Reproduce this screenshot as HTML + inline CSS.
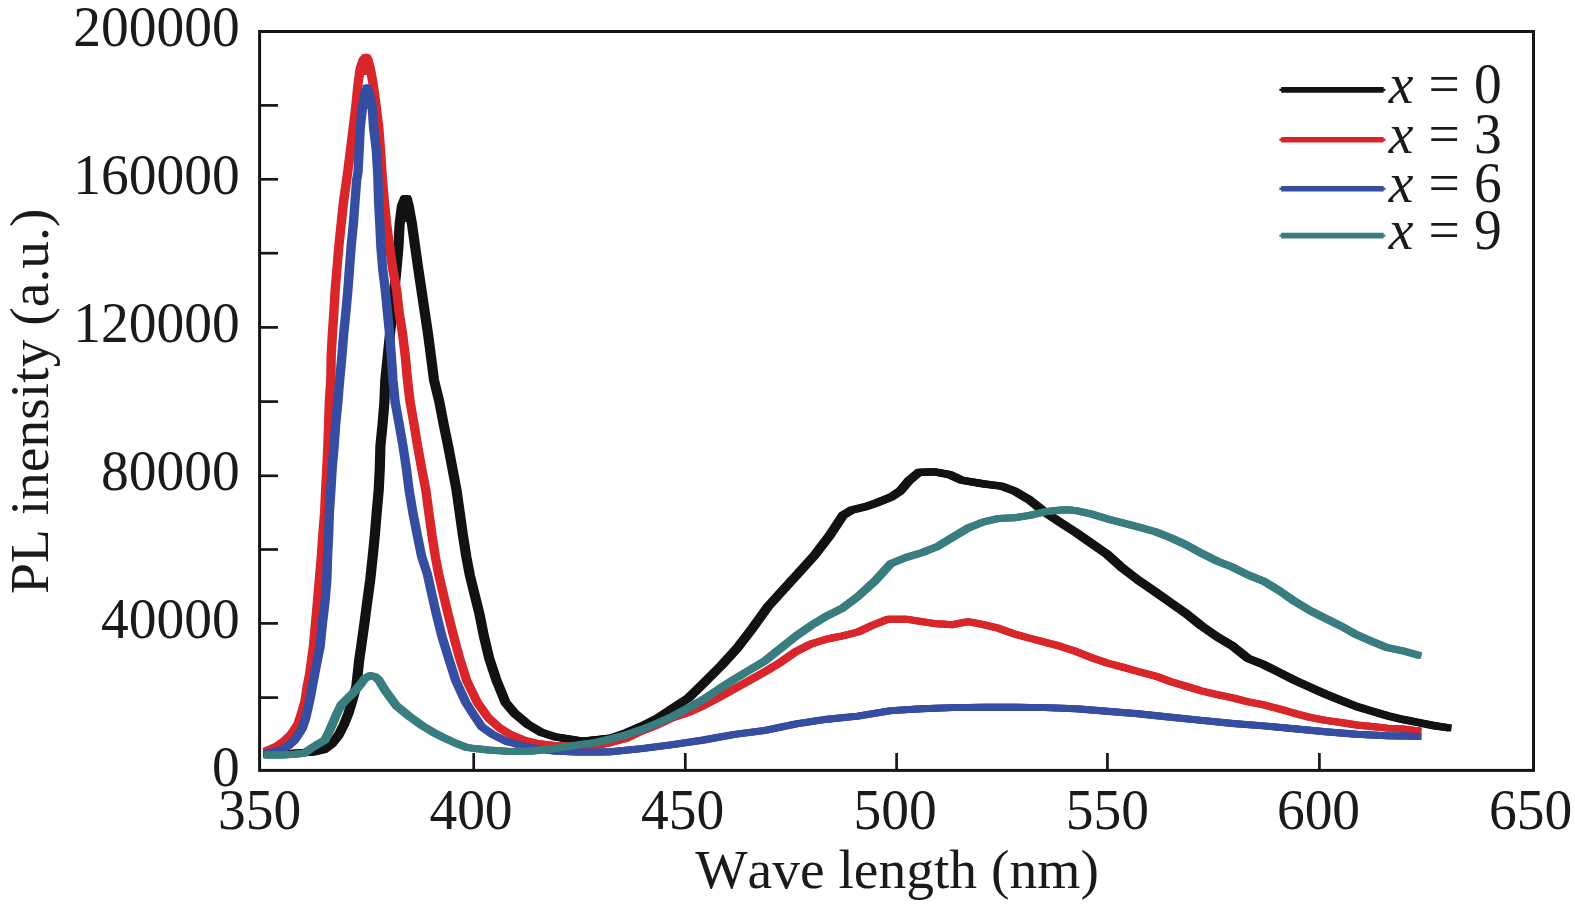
<!DOCTYPE html>
<html>
<head>
<meta charset="utf-8">
<title>PL intensity vs wave length</title>
<style>
html,body{margin:0;padding:0;background:#ffffff;}
body{width:1575px;height:906px;overflow:hidden;}
svg{display:block;}
.t{font-family:"Liberation Serif",serif;font-size:55.5px;fill:#1a1a1a;font-kerning:none;}
</style>
</head>
<body>
<svg width="1575" height="906" viewBox="0 0 1575 906">
<rect x="0" y="0" width="1575" height="906" fill="#ffffff"/>
<rect x="259.6" y="31.5" width="1273.9" height="738.9" fill="none" stroke="#161616" stroke-width="3"/>
<line x1="259.6" y1="105.4" x2="278" y2="105.4" stroke="#161616" stroke-width="2.7"/>
<line x1="259.6" y1="179.3" x2="278" y2="179.3" stroke="#161616" stroke-width="2.7"/>
<line x1="259.6" y1="253.2" x2="278" y2="253.2" stroke="#161616" stroke-width="2.7"/>
<line x1="259.6" y1="327.4" x2="278" y2="327.4" stroke="#161616" stroke-width="2.7"/>
<line x1="259.6" y1="401.6" x2="278" y2="401.6" stroke="#161616" stroke-width="2.7"/>
<line x1="259.6" y1="475.8" x2="278" y2="475.8" stroke="#161616" stroke-width="2.7"/>
<line x1="259.6" y1="549.5" x2="278" y2="549.5" stroke="#161616" stroke-width="2.7"/>
<line x1="259.6" y1="623.4" x2="278" y2="623.4" stroke="#161616" stroke-width="2.7"/>
<line x1="259.6" y1="697.6" x2="278" y2="697.6" stroke="#161616" stroke-width="2.7"/>
<line x1="473.7" y1="753" x2="473.7" y2="770.4" stroke="#161616" stroke-width="2.7"/>
<line x1="685.3" y1="753" x2="685.3" y2="770.4" stroke="#161616" stroke-width="2.7"/>
<line x1="896.6" y1="753" x2="896.6" y2="770.4" stroke="#161616" stroke-width="2.7"/>
<line x1="1107.4" y1="753" x2="1107.4" y2="770.4" stroke="#161616" stroke-width="2.7"/>
<line x1="1319.4" y1="753" x2="1319.4" y2="770.4" stroke="#161616" stroke-width="2.7"/>
<path d="M266.6 754.0 L288.5 753.5 L301.5 752.5 L312.0 752.0 L322.5 749.5 L330.5 743.5 L337.2 735.0 L342.5 724.5 L347.1 713.0 L351.0 700.0 L354.8 686.5 L356.3 673.0 L357.7 660.0 L359.7 646.2 L362.8 624.2 L365.7 602.1 L368.7 580.0 L371.2 556.6 L373.4 534.5 L375.2 512.5 L377.2 490.4 L378.3 468.3 L378.9 446.2 L381.1 424.2 L382.9 402.1 L383.8 380.0 L386.2 356.6 L388.4 334.5 L390.9 312.5 L392.8 290.4 L395.1 268.3 L397.0 246.2 L398.1 224.2 L400.4 206.0 L403.5 198.5 L405.3 198.5 L407.2 206.0 L410.5 224.2 L413.6 246.2 L416.7 268.3 L420.0 290.4 L423.3 312.5 L426.6 334.5 L429.5 356.6 L432.5 380.0 L437.9 402.1 L442.1 424.2 L446.7 446.2 L450.9 468.3 L455.1 490.4 L458.2 512.5 L461.3 534.5 L464.8 556.6 L468.3 575.0 L472.5 592.1 L478.0 614.2 L482.4 636.2 L487.7 658.3 L495.0 680.4 L504.0 702.5 L513.3 713.5 L526.5 724.5 L539.8 732.3 L553.0 736.7 L566.3 738.9 L581.7 741.2 L593.9 739.8 L609.4 738.2 L624.8 732.9 L640.3 726.1 L655.7 718.4 L671.2 708.2 L686.6 698.3 L702.2 683.1 L720.1 665.3 L735.6 648.3 L751.0 628.2 L766.5 606.6 L781.9 589.6 L797.4 572.6 L812.8 555.6 L828.2 535.5 L841.4 515.4 L850.4 509.9 L865.8 506.2 L873.9 503.3 L889.4 497.2 L898.7 491.0 L907.9 480.2 L917.2 472.4 L932.6 471.8 L948.1 474.6 L960.4 480.2 L982.1 483.9 L1000.6 486.3 L1013.0 491.0 L1028.4 500.2 L1043.9 512.6 L1059.3 522.8 L1074.8 532.7 L1090.2 543.5 L1105.6 554.3 L1121.1 568.2 L1136.5 580.0 L1154.0 592.0 L1169.4 602.9 L1184.9 613.7 L1200.3 626.1 L1215.8 636.9 L1231.3 646.2 L1246.7 658.5 L1262.2 664.7 L1277.6 672.4 L1293.1 680.2 L1308.6 687.3 L1324.0 694.1 L1339.5 700.3 L1355.0 706.5 L1370.4 711.1 L1385.9 715.7 L1401.3 719.4 L1416.8 722.5 L1432.3 725.6 L1445.0 727.5 M404.4 199.0 L404.4 218.5" fill="none" stroke="#121212" stroke-width="7.20" stroke-linejoin="round" stroke-linecap="square"/>
<path d="M268.1 754.0 L290.0 753.5 L303.0 752.5 L313.5 752.0 L324.0 749.5 L332.0 743.5 L338.7 735.0 L344.0 724.5 L348.6 713.0 L352.5 700.0 L356.3 686.5 L357.8 673.0 L359.2 660.0 L361.2 646.2 L364.3 624.2 L367.2 602.1 L370.2 580.0 L372.7 556.6 L374.9 534.5 L376.7 512.5 L378.7 490.4 L379.8 468.3 L380.4 446.2 L382.6 424.2 L384.4 402.1 L385.3 380.0 L387.7 356.6 L389.9 334.5 L392.4 312.5 L394.3 290.4 L396.6 268.3 L398.5 246.2 L399.6 224.2 L401.9 206.0 L405.0 198.5 L406.8 198.5 L408.7 206.0 L412.0 224.2 L415.1 246.2 L418.2 268.3 L421.5 290.4 L424.8 312.5 L428.1 334.5 L431.0 356.6 L434.0 380.0 L439.4 402.1 L443.6 424.2 L448.2 446.2 L452.4 468.3 L456.6 490.4 L459.7 512.5 L462.8 534.5 L466.3 556.6 L469.8 575.0 L474.0 592.1 L479.5 614.2 L483.9 636.2 L489.2 658.3 L496.5 680.4 L505.5 702.5 L514.8 713.5 L528.0 724.5 L541.3 732.3 L554.5 736.7 L567.8 738.9 L583.2 741.2 L595.4 739.8 L610.9 738.2 L626.3 732.9 L641.8 726.1 L657.2 718.4 L672.7 708.2 L688.1 698.3 L703.7 683.1 L721.6 665.3 L737.1 648.3 L752.5 628.2 L768.0 606.6 L783.4 589.6 L798.9 572.6 L814.3 555.6 L829.7 535.5 L842.9 515.4 L851.9 509.9 L867.3 506.2 L875.4 503.3 L890.9 497.2 L900.2 491.0 L909.4 480.2 L918.7 472.4 L934.1 471.8 L949.6 474.6 L961.9 480.2 L983.6 483.9 L1002.1 486.3 L1014.5 491.0 L1029.9 500.2 L1045.4 512.6 L1060.8 522.8 L1076.3 532.7 L1091.7 543.5 L1107.1 554.3 L1122.6 568.2 L1138.0 580.0 L1155.5 592.0 L1170.9 602.9 L1186.4 613.7 L1201.8 626.1 L1217.3 636.9 L1232.8 646.2 L1248.2 658.5 L1263.7 664.7 L1279.1 672.4 L1294.6 680.2 L1310.1 687.3 L1325.5 694.1 L1341.0 700.3 L1356.5 706.5 L1371.9 711.1 L1387.4 715.7 L1402.8 719.4 L1418.3 722.5 L1433.8 725.6 L1446.5 727.5 M405.9 199.0 L405.9 218.5" fill="none" stroke="#121212" stroke-width="7.20" stroke-linejoin="round" stroke-linecap="square"/>
<path d="M269.6 754.0 L291.5 753.5 L304.5 752.5 L315.0 752.0 L325.5 749.5 L333.5 743.5 L340.2 735.0 L345.5 724.5 L350.1 713.0 L354.0 700.0 L357.8 686.5 L359.3 673.0 L360.7 660.0 L362.7 646.2 L365.8 624.2 L368.7 602.1 L371.7 580.0 L374.2 556.6 L376.4 534.5 L378.2 512.5 L380.2 490.4 L381.3 468.3 L381.9 446.2 L384.1 424.2 L385.9 402.1 L386.8 380.0 L389.2 356.6 L391.4 334.5 L393.9 312.5 L395.8 290.4 L398.1 268.3 L400.0 246.2 L401.1 224.2 L403.4 206.0 L406.5 198.5 L408.3 198.5 L410.2 206.0 L413.5 224.2 L416.6 246.2 L419.7 268.3 L423.0 290.4 L426.3 312.5 L429.6 334.5 L432.5 356.6 L435.5 380.0 L440.9 402.1 L445.1 424.2 L449.7 446.2 L453.9 468.3 L458.1 490.4 L461.2 512.5 L464.3 534.5 L467.8 556.6 L471.3 575.0 L475.5 592.1 L481.0 614.2 L485.4 636.2 L490.7 658.3 L498.0 680.4 L507.0 702.5 L516.3 713.5 L529.5 724.5 L542.8 732.3 L556.0 736.7 L569.3 738.9 L584.7 741.2 L596.9 739.8 L612.4 738.2 L627.8 732.9 L643.3 726.1 L658.7 718.4 L674.2 708.2 L689.6 698.3 L705.2 683.1 L723.1 665.3 L738.6 648.3 L754.0 628.2 L769.5 606.6 L784.9 589.6 L800.4 572.6 L815.8 555.6 L831.2 535.5 L844.4 515.4 L853.4 509.9 L868.8 506.2 L876.9 503.3 L892.4 497.2 L901.7 491.0 L910.9 480.2 L920.2 472.4 L935.6 471.8 L951.1 474.6 L963.4 480.2 L985.1 483.9 L1003.6 486.3 L1016.0 491.0 L1031.4 500.2 L1046.9 512.6 L1062.3 522.8 L1077.8 532.7 L1093.2 543.5 L1108.6 554.3 L1124.1 568.2 L1139.5 580.0 L1157.0 592.0 L1172.4 602.9 L1187.9 613.7 L1203.3 626.1 L1218.8 636.9 L1234.3 646.2 L1249.7 658.5 L1265.2 664.7 L1280.6 672.4 L1296.1 680.2 L1311.6 687.3 L1327.0 694.1 L1342.5 700.3 L1358.0 706.5 L1373.4 711.1 L1388.9 715.7 L1404.3 719.4 L1419.8 722.5 L1435.3 725.6 L1448.0 727.5 M407.4 199.0 L407.4 218.5" fill="none" stroke="#121212" stroke-width="7.20" stroke-linejoin="round" stroke-linecap="square"/>
<path d="M266.9 750.0 L275.2 746.5 L282.8 741.0 L289.8 734.5 L296.6 724.5 L300.8 711.5 L303.9 700.5 L305.8 687.2 L308.4 673.9 L310.2 660.7 L312.2 646.0 L314.2 624.0 L316.2 602.0 L318.1 580.0 L320.1 556.6 L321.6 534.5 L323.4 512.5 L324.4 490.4 L325.6 468.3 L326.6 446.2 L327.4 424.2 L328.1 402.1 L329.6 380.0 L329.9 356.6 L331.1 334.5 L332.6 312.5 L333.9 290.4 L335.8 268.3 L337.6 246.2 L339.9 224.2 L342.2 202.1 L345.4 180.0 L349.2 150.4 L351.9 128.3 L354.6 106.2 L356.8 84.2 L358.9 68.7 L362.2 59.5 L364.8 57.4 L366.8 59.5 L369.1 68.7 L371.9 84.2 L374.9 106.2 L377.6 128.3 L379.2 150.4 L380.9 176.0 L383.1 202.1 L385.4 224.2 L388.2 246.2 L391.4 268.3 L395.4 290.4 L397.9 312.5 L401.4 334.5 L404.1 356.6 L406.2 380.0 L408.9 402.1 L412.8 424.2 L416.4 446.2 L420.4 468.3 L424.6 490.4 L427.6 512.5 L430.6 534.5 L434.1 556.6 L437.4 574.0 L441.6 592.1 L446.9 614.2 L452.4 636.2 L458.4 658.3 L465.4 680.4 L476.1 702.5 L487.1 717.9 L498.1 727.8 L509.1 734.5 L522.4 740.0 L535.6 743.3 L553.2 745.5 L575.4 746.6 L594.1 745.6 L609.6 742.5 L625.0 738.5 L640.5 731.0 L656.0 725.0 L671.5 717.6 L686.9 712.5 L702.4 705.5 L717.8 697.5 L733.2 688.8 L748.6 680.3 L764.1 671.5 L779.5 662.2 L795.0 651.4 L810.5 643.7 L825.9 639.0 L841.4 635.9 L856.8 632.0 L871.1 625.4 L886.5 619.2 L905.0 619.2 L920.5 621.6 L936.0 623.8 L951.5 624.7 L966.9 621.6 L982.4 624.7 L997.8 628.4 L1013.2 634.0 L1028.7 638.3 L1044.2 642.3 L1059.5 646.4 L1075.0 651.6 L1090.5 657.8 L1105.8 663.0 L1121.3 667.1 L1136.8 671.5 L1154.2 676.1 L1169.7 681.7 L1185.2 686.4 L1200.5 691.0 L1216.0 694.7 L1231.5 697.8 L1247.0 701.8 L1262.5 704.9 L1277.8 708.9 L1293.3 713.3 L1308.8 717.3 L1324.2 720.4 L1339.8 722.5 L1355.2 725.0 L1370.7 726.5 L1386.2 728.1 L1401.5 729.0 L1415.8 730.6 M364.8 58.0 L364.8 71.3" fill="none" stroke="#d9262b" stroke-width="6.90" stroke-linejoin="round" stroke-linecap="square"/>
<path d="M268.1 750.0 L276.5 746.5 L284.0 741.0 L291.0 734.5 L297.8 724.5 L302.0 711.5 L305.2 700.5 L307.0 687.2 L309.7 673.9 L311.5 660.7 L313.5 646.0 L315.5 624.0 L317.5 602.0 L319.3 580.0 L321.3 556.6 L322.8 534.5 L324.6 512.5 L325.7 490.4 L326.8 468.3 L327.9 446.2 L328.6 424.2 L329.4 402.1 L330.8 380.0 L331.2 356.6 L332.3 334.5 L333.9 312.5 L335.2 290.4 L337.0 268.3 L338.9 246.2 L341.1 224.2 L343.5 202.1 L346.7 180.0 L350.5 150.4 L353.2 128.3 L355.8 106.2 L358.0 84.2 L360.2 68.7 L363.5 59.5 L366.0 57.4 L368.0 59.5 L370.4 68.7 L373.2 84.2 L376.1 106.2 L378.8 128.3 L380.5 150.4 L382.2 176.0 L384.4 202.1 L386.6 224.2 L389.5 246.2 L392.6 268.3 L396.6 290.4 L399.2 312.5 L402.7 334.5 L405.4 356.6 L407.5 380.0 L410.2 402.1 L414.0 424.2 L417.7 446.2 L421.7 468.3 L425.9 490.4 L428.8 512.5 L431.9 534.5 L435.4 556.6 L438.6 574.0 L442.8 592.1 L448.1 614.2 L453.6 636.2 L459.6 658.3 L466.7 680.4 L477.3 702.5 L488.3 717.9 L499.3 727.8 L510.4 734.5 L523.6 740.0 L536.9 743.3 L554.5 745.5 L576.6 746.6 L595.4 745.6 L610.9 742.5 L626.3 738.5 L641.8 731.0 L657.2 725.0 L672.7 717.6 L688.1 712.5 L703.6 705.5 L719.0 697.5 L734.5 688.8 L749.9 680.3 L765.4 671.5 L780.8 662.2 L796.3 651.4 L811.7 643.7 L827.1 639.0 L842.6 635.9 L858.0 632.0 L872.4 625.4 L887.8 619.2 L906.3 619.2 L921.8 621.6 L937.2 623.8 L952.7 624.7 L968.1 621.6 L983.6 624.7 L999.0 628.4 L1014.5 634.0 L1029.9 638.3 L1045.4 642.3 L1060.8 646.4 L1076.3 651.6 L1091.7 657.8 L1107.1 663.0 L1122.6 667.1 L1138.0 671.5 L1155.5 676.1 L1170.9 681.7 L1186.4 686.4 L1201.8 691.0 L1217.3 694.7 L1232.8 697.8 L1248.2 701.8 L1263.7 704.9 L1279.1 708.9 L1294.6 713.3 L1310.1 717.3 L1325.5 720.4 L1341.0 722.5 L1356.5 725.0 L1371.9 726.5 L1387.4 728.1 L1402.8 729.0 L1417.0 730.6 M366.0 58.0 L366.0 71.3" fill="none" stroke="#d9262b" stroke-width="6.90" stroke-linejoin="round" stroke-linecap="square"/>
<path d="M269.4 750.0 L277.8 746.5 L285.2 741.0 L292.2 734.5 L299.1 724.5 L303.2 711.5 L306.4 700.5 L308.2 687.2 L310.9 673.9 L312.8 660.7 L314.8 646.0 L316.8 624.0 L318.8 602.0 L320.6 580.0 L322.6 556.6 L324.1 534.5 L325.9 512.5 L326.9 490.4 L328.1 468.3 L329.1 446.2 L329.9 424.2 L330.6 402.1 L332.1 380.0 L332.4 356.6 L333.6 334.5 L335.1 312.5 L336.4 290.4 L338.2 268.3 L340.1 246.2 L342.4 224.2 L344.8 202.1 L347.9 180.0 L351.8 150.4 L354.4 128.3 L357.1 106.2 L359.2 84.2 L361.4 68.7 L364.8 59.5 L367.2 57.4 L369.2 59.5 L371.6 68.7 L374.4 84.2 L377.4 106.2 L380.1 128.3 L381.8 150.4 L383.4 176.0 L385.6 202.1 L387.9 224.2 L390.8 246.2 L393.9 268.3 L397.9 290.4 L400.4 312.5 L403.9 334.5 L406.6 356.6 L408.8 380.0 L411.4 402.1 L415.2 424.2 L418.9 446.2 L422.9 468.3 L427.1 490.4 L430.1 512.5 L433.1 534.5 L436.6 556.6 L439.9 574.0 L444.1 592.1 L449.4 614.2 L454.9 636.2 L460.9 658.3 L467.9 680.4 L478.6 702.5 L489.6 717.9 L500.6 727.8 L511.6 734.5 L524.9 740.0 L538.1 743.3 L555.8 745.5 L577.9 746.6 L596.6 745.6 L612.1 742.5 L627.5 738.5 L643.0 731.0 L658.5 725.0 L674.0 717.6 L689.4 712.5 L704.9 705.5 L720.2 697.5 L735.8 688.8 L751.1 680.3 L766.6 671.5 L782.0 662.2 L797.5 651.4 L813.0 643.7 L828.4 639.0 L843.9 635.9 L859.2 632.0 L873.6 625.4 L889.0 619.2 L907.5 619.2 L923.0 621.6 L938.5 623.8 L954.0 624.7 L969.4 621.6 L984.9 624.7 L1000.2 628.4 L1015.8 634.0 L1031.2 638.3 L1046.7 642.3 L1062.0 646.4 L1077.5 651.6 L1093.0 657.8 L1108.3 663.0 L1123.8 667.1 L1139.2 671.5 L1156.8 676.1 L1172.2 681.7 L1187.7 686.4 L1203.0 691.0 L1218.5 694.7 L1234.0 697.8 L1249.5 701.8 L1265.0 704.9 L1280.3 708.9 L1295.8 713.3 L1311.3 717.3 L1326.8 720.4 L1342.2 722.5 L1357.8 725.0 L1373.2 726.5 L1388.7 728.1 L1404.0 729.0 L1418.2 730.6 M367.2 58.0 L367.2 71.3" fill="none" stroke="#d9262b" stroke-width="6.90" stroke-linejoin="round" stroke-linecap="square"/>
<path d="M266.9 752.7 L273.6 751.7 L280.2 749.7 L286.9 745.8 L293.4 740.1 L298.8 732.2 L301.2 727.5 L304.4 718.3 L307.1 706.4 L309.4 695.8 L311.1 686.5 L313.6 673.2 L316.1 660.0 L318.9 646.2 L321.1 624.2 L323.8 602.1 L325.6 580.0 L326.2 556.6 L327.4 534.5 L328.1 512.5 L329.6 490.4 L330.9 468.3 L332.9 446.2 L334.4 424.2 L336.6 402.1 L338.4 380.0 L340.6 356.6 L342.4 334.5 L344.6 312.5 L346.6 290.4 L348.2 268.3 L349.9 246.2 L352.1 224.2 L353.8 202.1 L355.4 180.0 L356.8 172.5 L357.9 150.4 L358.9 128.3 L361.4 106.2 L363.8 93.0 L365.9 87.9 L367.9 93.0 L370.9 106.2 L372.4 128.3 L375.1 150.4 L376.6 176.0 L377.4 202.1 L378.6 224.2 L379.6 246.2 L381.4 268.3 L384.1 290.4 L386.2 312.5 L388.4 334.5 L390.1 356.6 L391.8 380.0 L393.9 402.1 L397.9 424.2 L401.8 446.2 L405.1 468.3 L407.9 490.4 L411.6 512.5 L415.9 534.5 L420.4 556.6 L426.1 574.0 L430.1 592.1 L435.1 614.2 L440.6 636.2 L447.4 658.3 L454.4 680.4 L464.6 702.5 L471.6 713.5 L480.4 726.7 L491.4 734.5 L504.8 741.1 L520.1 745.5 L535.6 748.8 L553.2 751.0 L575.4 752.1 L598.8 752.0 L609.6 751.7 L640.5 748.6 L671.5 744.6 L702.4 740.0 L733.2 734.4 L764.1 730.4 L795.0 723.8 L825.9 719.2 L856.8 716.1 L889.6 710.6 L920.5 708.8 L951.5 707.6 L982.4 707.2 L1013.2 707.2 L1044.2 707.6 L1075.0 708.8 L1105.8 711.2 L1136.8 713.8 L1169.7 717.3 L1200.5 720.4 L1231.5 723.5 L1262.5 725.9 L1293.3 728.7 L1324.2 731.8 L1355.2 734.3 L1386.2 735.8 L1415.8 736.4 M365.9 88.5 L365.9 105.2" fill="none" stroke="#364ea1" stroke-width="6.90" stroke-linejoin="round" stroke-linecap="square"/>
<path d="M268.1 752.7 L274.9 751.7 L281.5 749.7 L288.1 745.8 L294.7 740.1 L300.0 732.2 L302.5 727.5 L305.7 718.3 L308.4 706.4 L310.6 695.8 L312.4 686.5 L314.9 673.2 L317.3 660.0 L320.1 646.2 L322.3 624.2 L325.0 602.1 L326.8 580.0 L327.5 556.6 L328.6 534.5 L329.4 512.5 L330.8 490.4 L332.1 468.3 L334.1 446.2 L335.6 424.2 L337.8 402.1 L339.7 380.0 L341.8 356.6 L343.6 334.5 L345.8 312.5 L347.8 290.4 L349.5 268.3 L351.1 246.2 L353.3 224.2 L355.0 202.1 L356.6 180.0 L358.0 172.5 L359.1 150.4 L360.2 128.3 L362.6 106.2 L365.0 93.0 L367.1 87.9 L369.2 93.0 L372.1 106.2 L373.7 128.3 L376.3 150.4 L377.8 176.0 L378.7 202.1 L379.8 224.2 L380.9 246.2 L382.6 268.3 L385.3 290.4 L387.5 312.5 L389.7 334.5 L391.3 356.6 L393.0 380.0 L395.2 402.1 L399.2 424.2 L403.0 446.2 L406.3 468.3 L409.1 490.4 L412.9 512.5 L417.1 534.5 L421.7 556.6 L427.3 574.0 L431.3 592.1 L436.4 614.2 L441.9 636.2 L448.6 658.3 L455.6 680.4 L465.8 702.5 L472.8 713.5 L481.7 726.7 L492.7 734.5 L506.0 741.1 L521.4 745.5 L536.9 748.8 L554.5 751.0 L576.6 752.1 L600.0 752.0 L610.9 751.7 L641.8 748.6 L672.7 744.6 L703.6 740.0 L734.5 734.4 L765.4 730.4 L796.3 723.8 L827.1 719.2 L858.0 716.1 L890.9 710.6 L921.8 708.8 L952.7 707.6 L983.6 707.2 L1014.5 707.2 L1045.4 707.6 L1076.3 708.8 L1107.1 711.2 L1138.0 713.8 L1170.9 717.3 L1201.8 720.4 L1232.8 723.5 L1263.7 725.9 L1294.6 728.7 L1325.5 731.8 L1356.5 734.3 L1387.4 735.8 L1417.0 736.4 M367.1 88.5 L367.1 105.2" fill="none" stroke="#364ea1" stroke-width="6.90" stroke-linejoin="round" stroke-linecap="square"/>
<path d="M269.4 752.7 L276.1 751.7 L282.8 749.7 L289.4 745.8 L295.9 740.1 L301.2 732.2 L303.8 727.5 L306.9 718.3 L309.6 706.4 L311.9 695.8 L313.6 686.5 L316.1 673.2 L318.6 660.0 L321.4 646.2 L323.6 624.2 L326.2 602.1 L328.1 580.0 L328.8 556.6 L329.9 534.5 L330.6 512.5 L332.1 490.4 L333.4 468.3 L335.4 446.2 L336.9 424.2 L339.1 402.1 L340.9 380.0 L343.1 356.6 L344.9 334.5 L347.1 312.5 L349.1 290.4 L350.8 268.3 L352.4 246.2 L354.6 224.2 L356.2 202.1 L357.9 180.0 L359.2 172.5 L360.4 150.4 L361.4 128.3 L363.9 106.2 L366.2 93.0 L368.4 87.9 L370.4 93.0 L373.4 106.2 L374.9 128.3 L377.6 150.4 L379.1 176.0 L379.9 202.1 L381.1 224.2 L382.1 246.2 L383.9 268.3 L386.6 290.4 L388.8 312.5 L390.9 334.5 L392.6 356.6 L394.2 380.0 L396.4 402.1 L400.4 424.2 L404.2 446.2 L407.6 468.3 L410.4 490.4 L414.1 512.5 L418.4 534.5 L422.9 556.6 L428.6 574.0 L432.6 592.1 L437.6 614.2 L443.1 636.2 L449.9 658.3 L456.9 680.4 L467.1 702.5 L474.1 713.5 L482.9 726.7 L493.9 734.5 L507.2 741.1 L522.6 745.5 L538.1 748.8 L555.8 751.0 L577.9 752.1 L601.2 752.0 L612.1 751.7 L643.0 748.6 L674.0 744.6 L704.9 740.0 L735.8 734.4 L766.6 730.4 L797.5 723.8 L828.4 719.2 L859.2 716.1 L892.1 710.6 L923.0 708.8 L954.0 707.6 L984.9 707.2 L1015.8 707.2 L1046.7 707.6 L1077.5 708.8 L1108.3 711.2 L1139.2 713.8 L1172.2 717.3 L1203.0 720.4 L1234.0 723.5 L1265.0 725.9 L1295.8 728.7 L1326.8 731.8 L1357.8 734.3 L1388.7 735.8 L1418.2 736.4 M368.4 88.5 L368.4 105.2" fill="none" stroke="#364ea1" stroke-width="6.90" stroke-linejoin="round" stroke-linecap="square"/>
<path d="M266.9 755.0 L280.2 755.0 L293.4 754.3 L302.8 753.4 L309.4 748.7 L315.6 744.8 L323.6 740.1 L327.9 731.5 L331.9 722.3 L335.9 713.0 L339.9 705.0 L346.4 698.4 L353.1 691.8 L359.8 683.8 L363.6 678.5 L368.9 675.5 L373.8 676.6 L377.4 679.8 L383.9 690.4 L395.1 705.8 L408.2 716.5 L420.9 725.6 L431.9 732.3 L442.9 737.8 L453.9 743.0 L464.9 747.3 L476.1 748.8 L487.1 750.0 L509.1 751.5 L531.2 751.0 L553.2 748.5 L575.4 745.2 L594.1 742.6 L609.6 738.9 L625.0 734.8 L640.5 729.6 L656.0 723.4 L671.5 716.3 L686.9 708.0 L702.4 699.3 L717.8 689.0 L733.2 679.2 L748.6 669.9 L764.1 660.6 L779.5 648.3 L795.0 635.9 L810.5 625.1 L825.9 615.8 L841.4 608.1 L856.8 596.5 L874.1 580.6 L889.6 563.6 L905.0 557.4 L920.5 552.8 L936.0 546.6 L951.5 537.3 L966.9 528.0 L982.4 521.9 L997.8 518.4 L1013.2 517.8 L1028.7 515.3 L1044.2 511.6 L1059.5 510.0 L1066.8 509.7 L1075.0 510.6 L1090.5 514.1 L1105.8 518.8 L1121.3 522.8 L1136.8 526.8 L1154.2 531.7 L1169.7 537.9 L1185.2 545.0 L1200.5 553.4 L1216.0 561.1 L1231.5 567.3 L1247.0 575.0 L1262.5 581.2 L1277.8 590.5 L1293.3 601.3 L1308.8 610.6 L1324.2 618.3 L1339.8 626.1 L1355.2 634.7 L1370.7 641.5 L1386.2 647.7 L1401.5 650.8 L1415.8 654.8" fill="none" stroke="#3a7d7e" stroke-width="6.90" stroke-linejoin="round" stroke-linecap="square"/>
<path d="M268.1 755.0 L281.5 755.0 L294.7 754.3 L304.0 753.4 L310.6 748.7 L316.9 744.8 L324.8 740.1 L329.2 731.5 L333.1 722.3 L337.1 713.0 L341.1 705.0 L347.7 698.4 L354.3 691.8 L361.0 683.8 L364.9 678.5 L370.2 675.5 L375.0 676.6 L378.6 679.8 L385.2 690.4 L396.3 705.8 L409.5 716.5 L422.1 725.6 L433.1 732.3 L444.2 737.8 L455.2 743.0 L466.2 747.3 L477.3 748.8 L488.3 750.0 L510.4 751.5 L532.5 751.0 L554.5 748.5 L576.6 745.2 L595.4 742.6 L610.9 738.9 L626.3 734.8 L641.8 729.6 L657.2 723.4 L672.7 716.3 L688.1 708.0 L703.6 699.3 L719.0 689.0 L734.5 679.2 L749.9 669.9 L765.4 660.6 L780.8 648.3 L796.3 635.9 L811.7 625.1 L827.1 615.8 L842.6 608.1 L858.0 596.5 L875.4 580.6 L890.9 563.6 L906.3 557.4 L921.8 552.8 L937.2 546.6 L952.7 537.3 L968.1 528.0 L983.6 521.9 L999.0 518.4 L1014.5 517.8 L1029.9 515.3 L1045.4 511.6 L1060.8 510.0 L1068.0 509.7 L1076.3 510.6 L1091.7 514.1 L1107.1 518.8 L1122.6 522.8 L1138.0 526.8 L1155.5 531.7 L1170.9 537.9 L1186.4 545.0 L1201.8 553.4 L1217.3 561.1 L1232.8 567.3 L1248.2 575.0 L1263.7 581.2 L1279.1 590.5 L1294.6 601.3 L1310.1 610.6 L1325.5 618.3 L1341.0 626.1 L1356.5 634.7 L1371.9 641.5 L1387.4 647.7 L1402.8 650.8 L1417.0 654.8" fill="none" stroke="#3a7d7e" stroke-width="6.90" stroke-linejoin="round" stroke-linecap="square"/>
<path d="M269.4 755.0 L282.8 755.0 L295.9 754.3 L305.2 753.4 L311.9 748.7 L318.1 744.8 L326.1 740.1 L330.4 731.5 L334.4 722.3 L338.4 713.0 L342.4 705.0 L348.9 698.4 L355.6 691.8 L362.2 683.8 L366.1 678.5 L371.4 675.5 L376.2 676.6 L379.9 679.8 L386.4 690.4 L397.6 705.8 L410.8 716.5 L423.4 725.6 L434.4 732.3 L445.4 737.8 L456.4 743.0 L467.4 747.3 L478.6 748.8 L489.6 750.0 L511.6 751.5 L533.8 751.0 L555.8 748.5 L577.9 745.2 L596.6 742.6 L612.1 738.9 L627.5 734.8 L643.0 729.6 L658.5 723.4 L674.0 716.3 L689.4 708.0 L704.9 699.3 L720.2 689.0 L735.8 679.2 L751.1 669.9 L766.6 660.6 L782.0 648.3 L797.5 635.9 L813.0 625.1 L828.4 615.8 L843.9 608.1 L859.2 596.5 L876.6 580.6 L892.1 563.6 L907.5 557.4 L923.0 552.8 L938.5 546.6 L954.0 537.3 L969.4 528.0 L984.9 521.9 L1000.2 518.4 L1015.8 517.8 L1031.2 515.3 L1046.7 511.6 L1062.0 510.0 L1069.2 509.7 L1077.5 510.6 L1093.0 514.1 L1108.3 518.8 L1123.8 522.8 L1139.2 526.8 L1156.8 531.7 L1172.2 537.9 L1187.7 545.0 L1203.0 553.4 L1218.5 561.1 L1234.0 567.3 L1249.5 575.0 L1265.0 581.2 L1280.3 590.5 L1295.8 601.3 L1311.3 610.6 L1326.8 618.3 L1342.2 626.1 L1357.8 634.7 L1373.2 641.5 L1388.7 647.7 L1404.0 650.8 L1418.2 654.8" fill="none" stroke="#3a7d7e" stroke-width="6.90" stroke-linejoin="round" stroke-linecap="square"/>
<text transform="translate(239.7 46.0) scale(1 1.028)" text-anchor="end" class="t">200000</text>
<text transform="translate(239.7 193.8) scale(1 1.028)" text-anchor="end" class="t">160000</text>
<text transform="translate(239.7 341.9) scale(1 1.028)" text-anchor="end" class="t">120000</text>
<text transform="translate(239.7 490.3) scale(1 1.028)" text-anchor="end" class="t">80000</text>
<text transform="translate(239.7 637.9) scale(1 1.028)" text-anchor="end" class="t">40000</text>
<text transform="translate(239.7 785.5) scale(1 1.028)" text-anchor="end" class="t">0</text>
<text transform="translate(259.7 828.9) scale(1 1.028)" text-anchor="middle" class="t">350</text>
<text transform="translate(471.0 828.9) scale(1 1.028)" text-anchor="middle" class="t">400</text>
<text transform="translate(682.7 828.9) scale(1 1.028)" text-anchor="middle" class="t">450</text>
<text transform="translate(895.2 828.9) scale(1 1.028)" text-anchor="middle" class="t">500</text>
<text transform="translate(1107.4 828.9) scale(1 1.028)" text-anchor="middle" class="t">550</text>
<text transform="translate(1318.5 828.9) scale(1 1.028)" text-anchor="middle" class="t">600</text>
<text transform="translate(1530.6 828.9) scale(1 1.028)" text-anchor="middle" class="t">650</text>
<text transform="translate(897.0 887.7) scale(1 1.000)" text-anchor="middle" class="t">Wave length (nm)</text>
<text transform="translate(47.8 401.3) rotate(-90)" text-anchor="middle" class="t">PL inensity (a.u.)</text>
<line x1="1281.2" y1="89.9" x2="1383.6" y2="89.9" stroke="#121212" stroke-width="5.6"/>
<line x1="1279.4" y1="89.9" x2="1385.4" y2="89.9" stroke="#121212" stroke-width="2.4"/>
<text transform="translate(1388.8 103.4) scale(1 1.028)" text-anchor="start" class="t"><tspan font-style="italic">x</tspan></text>
<text transform="translate(1428.4 103.4) scale(1 1.028)" text-anchor="start" class="t">=</text>
<text transform="translate(1474.0 103.4) scale(1 1.028)" text-anchor="start" class="t">0</text>
<line x1="1281.2" y1="139.7" x2="1383.6" y2="139.7" stroke="#d9262b" stroke-width="5.6"/>
<line x1="1279.4" y1="139.7" x2="1385.4" y2="139.7" stroke="#d9262b" stroke-width="2.4"/>
<text transform="translate(1388.8 153.2) scale(1 1.028)" text-anchor="start" class="t"><tspan font-style="italic">x</tspan></text>
<text transform="translate(1428.4 153.2) scale(1 1.028)" text-anchor="start" class="t">=</text>
<text transform="translate(1474.0 153.2) scale(1 1.028)" text-anchor="start" class="t">3</text>
<line x1="1281.2" y1="188.8" x2="1383.6" y2="188.8" stroke="#364ea1" stroke-width="5.6"/>
<line x1="1279.4" y1="188.8" x2="1385.4" y2="188.8" stroke="#364ea1" stroke-width="2.4"/>
<text transform="translate(1388.8 202.3) scale(1 1.028)" text-anchor="start" class="t"><tspan font-style="italic">x</tspan></text>
<text transform="translate(1428.4 202.3) scale(1 1.028)" text-anchor="start" class="t">=</text>
<text transform="translate(1474.0 202.3) scale(1 1.028)" text-anchor="start" class="t">6</text>
<line x1="1281.2" y1="235.6" x2="1383.6" y2="235.6" stroke="#3a7d7e" stroke-width="5.6"/>
<line x1="1279.4" y1="235.6" x2="1385.4" y2="235.6" stroke="#3a7d7e" stroke-width="2.4"/>
<text transform="translate(1388.8 249.1) scale(1 1.028)" text-anchor="start" class="t"><tspan font-style="italic">x</tspan></text>
<text transform="translate(1428.4 249.1) scale(1 1.028)" text-anchor="start" class="t">=</text>
<text transform="translate(1474.0 249.1) scale(1 1.028)" text-anchor="start" class="t">9</text>
</svg>
</body>
</html>
